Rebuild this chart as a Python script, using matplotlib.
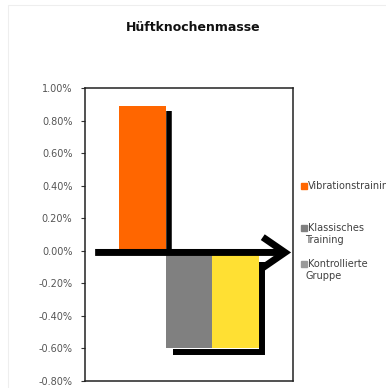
import numpy as np
import matplotlib.pyplot as plt
from matplotlib.patches import Rectangle

# data
groups = ["Vibrationstraining", "Klassisches\nTraining", "Kontrollierte\nGruppe"]
values = [0.0089, -0.0060, -0.0060]
colors = ["#FF6600", "#808080", "#FFE033"]
legend_colors = ["#FF6600", "#808080", "#9A9A9A"]
yticks = np.arange(-0.008, 0.0101, 0.002)
title = "Hüftknochenmasse"

fig = plt.figure(figsize=(3.86, 3.88), dpi=100)
fig.patches.append(Rectangle((0.022, -0.1), 1.2, 1.088, transform=fig.transFigure,
                             fill=False, edgecolor="#eeeeee", lw=0.8))

ax = fig.add_axes([0.220, 0.018, 0.539, 0.755])
x = np.arange(len(values)) - 1
ax.bar(x, values, width=1.0, color=colors, zorder=2)

ax.set_xlim(-2.24, 2.24)
ax.set_ylim(-0.008, 0.010)
ax.set_yticks(yticks)
ax.set_yticklabels(["%.2f%%" % (v * 100) for v in yticks])
ax.set_xticks([])
ax.tick_params(axis="y", direction="out", length=3, width=0.8, color="#333333",
               labelsize=7, labelcolor="#555555", pad=6)
for s in ax.spines.values():
    s.set_linewidth(1.1)
    s.set_color("#222222")

# hand drawn shadows / arrow of the original slide
ax.plot([x[0] + 0.57] * 2, [values[0] * 0.965, 0], color="k", lw=4,
        solid_capstyle="butt", zorder=3)
ybot = values[1] - 0.00022
xr = x[2] + 0.58
ax.plot([x[1] - 0.35, xr, xr], [ybot, ybot, -0.0007], color="k", lw=4.3,
        solid_capstyle="butt", solid_joinstyle="miter", zorder=3)
ax.annotate("", xy=(2.2, -0.0001), xytext=(-2.02, -0.0001),
            arrowprops=dict(arrowstyle="->,head_length=0.8,head_width=0.55",
                            lw=5, color="k", mutation_scale=20,
                            capstyle="butt", joinstyle="miter",
                            shrinkA=0, shrinkB=0), zorder=4)

fig.text(0.5, 0.930, title, ha="center", va="center", fontsize=9,
         fontweight="bold", color="#111111")

# legend (placed by hand like the original)
leg_y = [0.521, 0.412, 0.319]
for lab, c, y in zip(groups, legend_colors, leg_y):
    fig.patches.append(Rectangle((0.780, y - 0.007), 0.015, 0.015,
                                 transform=fig.transFigure, color=c))
    for i, ln in enumerate(lab.split("\n")):
        fig.text(0.797 if i == 0 else 0.791, y - i * 0.031, ln,
                 ha="left", va="center", fontsize=7, color="#404040")

fig.savefig("out.png", dpi=100)
